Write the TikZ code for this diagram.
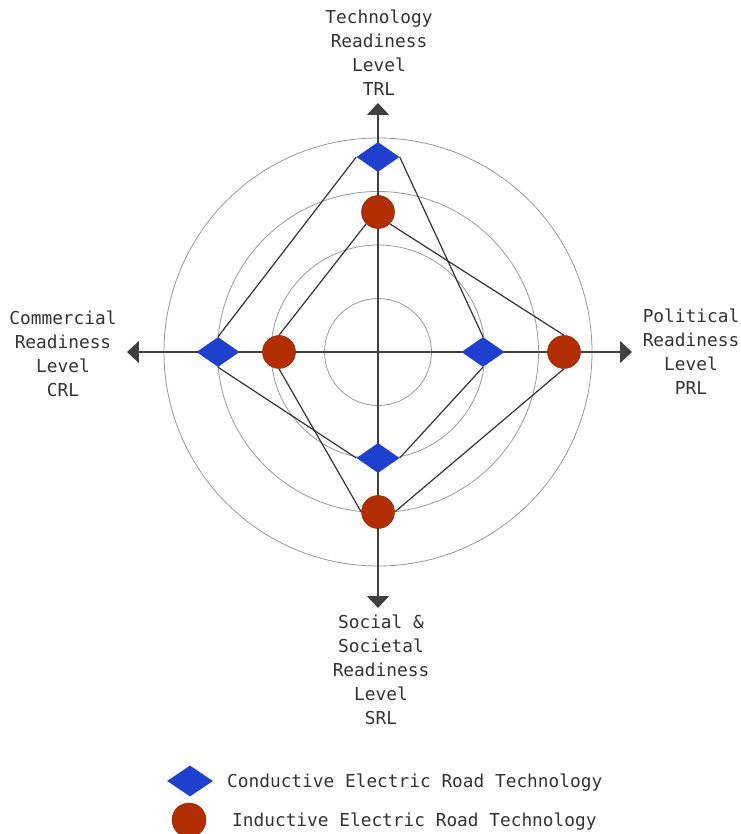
\documentclass[tikz,border=0pt]{standalone}
\usepackage{fontspec}
\setmonofont{DejaVu Sans Mono}
\usetikzlibrary{shapes.geometric,arrows.meta}
\definecolor{condblue}{HTML}{1E40CC}
\definecolor{inducred}{HTML}{B22E00}
\definecolor{textgray}{HTML}{333333}

\begin{document}
\begin{tikzpicture}[x=1pt,y=1pt,font=\ttfamily\fontsize{17.8}{24}\selectfont,
ring/.style={draw=black!40,line width=0.8pt},
axis/.style={draw=black!75,line width=1.5pt,{Triangle[width=22pt,length=12pt]}-{Triangle[width=22pt,length=12pt]}},
cond/.style={diamond,fill=condblue,minimum width=43pt,minimum height=30pt,inner sep=0pt},
induc/.style={circle,fill=inducred,draw=inducred!85!black,line width=0.5pt,minimum size=33pt,inner sep=0pt},
link/.style={draw=black!80,line width=1.2pt},
lbl/.style={align=center,inner sep=0pt,text=textgray}]
\useasboundingbox (-378,-482) rectangle (362,352);
\foreach \r in {1,...,4}
  \draw[ring] (0,0) circle (53.5*\r);
\coordinate (N) at (0,249);
\coordinate (S) at (0,-256);
\coordinate (W) at (-251,0);
\coordinate (E) at (254,0);
\draw[axis] (S) -- (N);
\draw[axis] (W) -- (E);
\node[cond] (tc) at (0,195) {};
\node[cond] (pc) at (105,0) {};
\node[cond] (sc) at (0,-106) {};
\node[cond] (cc) at (-160,0) {};
\node[induc] (ti) at (0,140) {};
\node[induc] (pi) at (186,0) {};
\node[induc] (si) at (0,-160) {};
\node[induc] (ci) at (-99,0) {};
\path (tc.west) edge[link] (cc.north);
\path (tc.east) edge[link] (pc.north);
\path (pc.south) edge[link] (sc.east);
\path (sc.west) edge[link] (cc.south);
\path (ti.south west) edge[link] (ci.north);
\path (ti.south east) edge[link] (pi.north);
\path (pi.south) edge[link] (si.east);
\path (si.west) edge[link] (ci.south);
\node[lbl] (trl) at (1,299) {Technology\\Readiness\\Level\\TRL};
\node[lbl] (prl) at (313,0) {Political\\Readiness\\Level\\PRL};
\node[lbl] (crl) at (-315,-2) {Commercial\\Readiness\\Level\\CRL};
\node[lbl] (srl) at (3,-318) {Social \&\\Societal\\Readiness\\Level\\SRL};
\node[cond,minimum width=46pt,minimum height=31pt] (lc) at (-188,-429) {};
\node[lbl,anchor=west] (lct) at (-151,-431) {Conductive Electric Road Technology};
\node[induc,minimum size=34pt] (li) at (-189,-468) {};
\node[lbl,anchor=west] (lit) at (-146,-470) {Inductive Electric Road Technology};
\end{tikzpicture}
\end{document}
